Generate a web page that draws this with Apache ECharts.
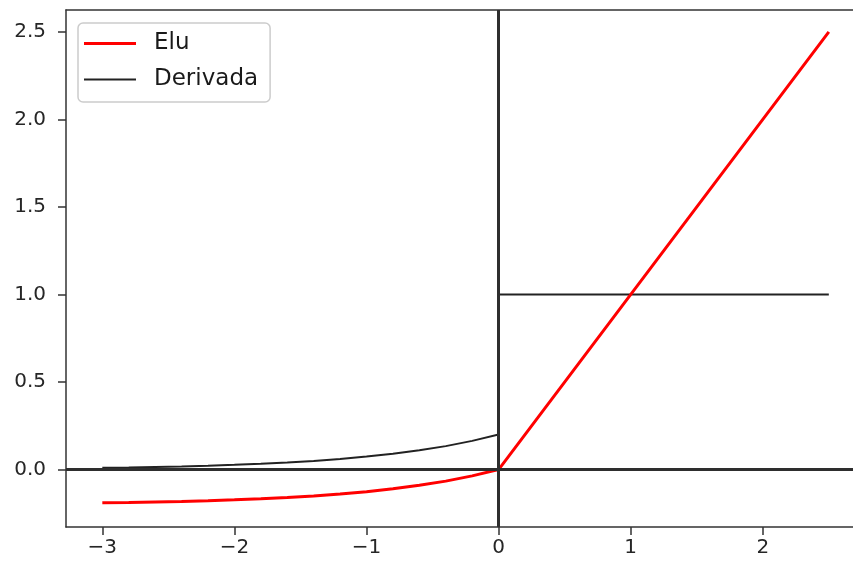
<!DOCTYPE html>
<html>
<head>
<meta charset="utf-8">
<script src="https://cdn.jsdelivr.net/npm/echarts@6/dist/echarts.min.js"></script>
<style>
html,body{margin:0;padding:0;background:#fff;}
#c{width:853px;height:565px;}
</style>
</head>
<body>
<div id="c"></div>
<script>
// Data
const xNeg = [-3, -2.8, -2.6, -2.4, -2.2, -2.0, -1.8, -1.6, -1.4, -1.2, -1.0, -0.8, -0.6, -0.4, -0.2, 0];
const eluNeg = [-0.190, -0.188, -0.185, -0.182, -0.178, -0.173, -0.167, -0.160, -0.151, -0.140, -0.126, -0.110, -0.090, -0.066, -0.036, 0];
const derivNeg = [0.010, 0.012, 0.015, 0.018, 0.022, 0.027, 0.033, 0.040, 0.049, 0.060, 0.074, 0.090, 0.110, 0.134, 0.164, 0.200];
const xPos = [0, 2.5];
const eluPos = [0, 2.5];
const derivPos = [1.0, 1.0];
const xTicks = [-3, -2, -1, 0, 1, 2];
const yTicks = [0, 0.5, 1.0, 1.5, 2.0, 2.5];
const seriesNames = ['Elu', 'Derivada'];

const eluData = xNeg.map((x, i) => [x, eluNeg[i]]).concat(xPos.slice(1).map((x, i) => [x, eluPos[i + 1]]));
const derivData = xNeg.map((x, i) => [x, derivNeg[i]]).concat(xPos.map((x, i) => [x, derivPos[i]]));

const font = 'DejaVu Sans';
const spine = { show: true, onZero: false, lineStyle: { color: '#333333', width: 1.5 } };
const xMin = -3.275, xMax = 2.683;
const chart = echarts.init(document.getElementById('c'));
chart.setOption({
  animation: false,
  backgroundColor: '#ffffff',
  grid: { left: 66, top: 10, right: 0, bottom: 38, show: false },
  xAxis: [{
    type: 'value', min: xMin, max: xMax, position: 'bottom',
    splitLine: { show: false },
    axisLine: spine,
    axisTick: { show: true, length: 8, customValues: xTicks, lineStyle: { color: '#333', width: 1.5 } },
    axisLabel: {
      customValues: xTicks, margin: 11, fontFamily: font, fontSize: 20, color: '#262626',
      formatter: v => (v < 0 ? '\u2212' + Math.abs(v) : String(v))
    }
  }, {
    type: 'value', min: xMin, max: xMax, position: 'top',
    splitLine: { show: false },
    axisLine: spine,
    axisTick: { show: false },
    axisLabel: { show: false }
  }],
  yAxis: {
    type: 'value', min: -0.328, max: 2.625,
    splitLine: { show: false },
    axisLine: spine,
    axisTick: { show: true, length: 8, customValues: yTicks, lineStyle: { color: '#333', width: 1.5 } },
    axisLabel: {
      customValues: yTicks, margin: 20, fontFamily: font, fontSize: 20, color: '#262626',
      formatter: v => v.toFixed(1)
    }
  },
  legend: {
    orient: 'vertical', left: 78, top: 23,
    data: [
      { name: seriesNames[0], icon: 'path://M0,0h52v3h-52z' },
      { name: seriesNames[1], icon: 'path://M0,0h52v2h-52z' }
    ],
    itemWidth: 52, itemHeight: 14, itemGap: 13,
    padding: [9, 12, 11, 6],
    backgroundColor: 'rgba(255,255,255,0.8)',
    borderColor: '#cccccc', borderWidth: 1.5, borderRadius: 5,
    textStyle: { fontFamily: font, fontSize: 23, color: '#1a1a1a', padding: [0, 0, 0, 13] }
  },
  series: [
    {
      name: seriesNames[1], type: 'line', data: derivData, showSymbol: false, symbol: 'none',
      lineStyle: { color: '#222222', width: 2 }, itemStyle: { color: '#222222' }, z: 2
    },
    {
      name: 'axes', type: 'line', data: [], z: 3, silent: true,
      markLine: {
        silent: true, symbol: ['none', 'none'], animation: false,
        label: { show: false },
        lineStyle: { color: '#2e2e2e', width: 3, type: 'solid' },
        data: [{ yAxis: 0 }, { xAxis: 0 }]
      }
    },
    {
      name: seriesNames[0], type: 'line', data: eluData, showSymbol: false, symbol: 'none',
      lineStyle: { color: '#ff0000', width: 3 }, itemStyle: { color: '#ff0000' }, z: 4
    }
  ]
});
</script>
</body>
</html>
